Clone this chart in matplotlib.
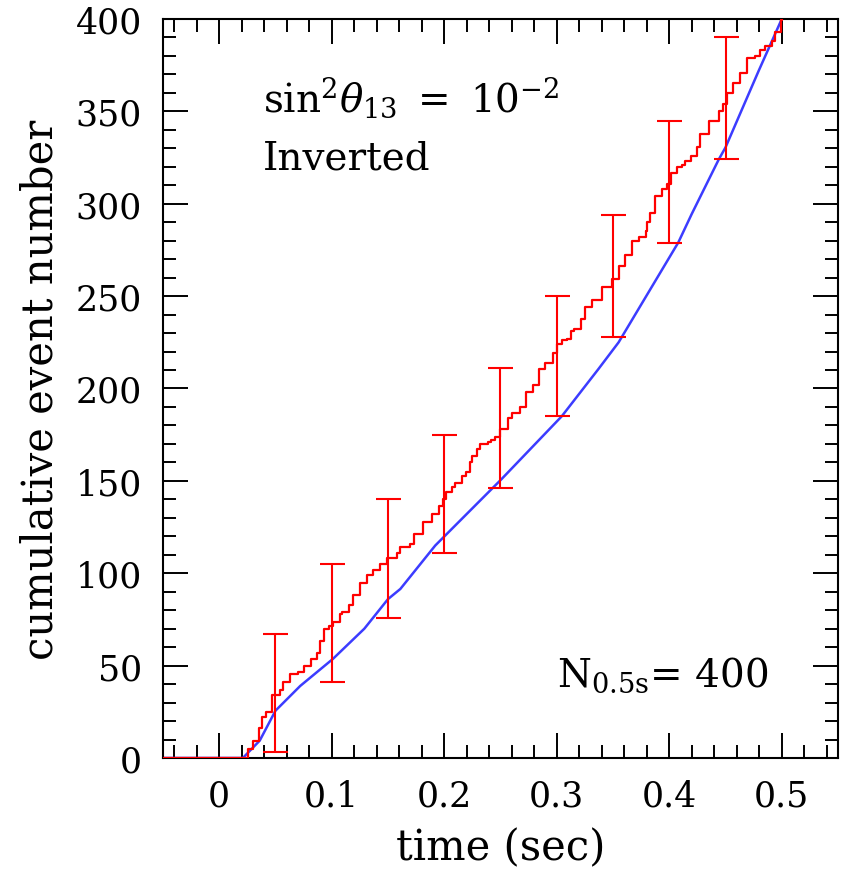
import numpy as np
import matplotlib
matplotlib.use("Agg")
import matplotlib.pyplot as plt
from matplotlib.ticker import MultipleLocator

plt.rcParams['font.family'] = 'DejaVu Serif'
plt.rcParams['mathtext.fontset'] = 'dejavuserif'

# expected cumulative events (smooth blue curve)
t_model = [-0.05, 0.021, 0.036, 0.050, 0.072, 0.101, 0.129, 0.150, 0.161, 0.192,
           0.251, 0.3045, 0.337, 0.355, 0.408, 0.420, 0.444, 0.450, 0.4795, 0.5]
n_model = [0, 0, 9.4, 25.6, 39, 53.6, 70, 86, 91.5, 115,
           151, 185, 210.5, 225, 279, 294.5, 324, 330.5, 372, 400]

# simulated cumulative events (red step curve)
t_sim = [-0.05, 0.021, 0.026, 0.030, 0.035, 0.038, 0.042, 0.047, 0.054, 0.057,
         0.063, 0.070, 0.075, 0.082, 0.087, 0.090, 0.093, 0.098, 0.101, 0.107,
         0.109, 0.115, 0.119, 0.125, 0.131, 0.137, 0.143, 0.149, 0.158, 0.161,
         0.170, 0.173, 0.181, 0.189, 0.195, 0.199, 0.202, 0.207, 0.210, 0.2155,
         0.219, 0.223, 0.2245, 0.229, 0.232, 0.239, 0.242, 0.245, 0.250, 0.257,
         0.260, 0.2675, 0.273, 0.279, 0.284, 0.290, 0.297, 0.300, 0.305, 0.309,
         0.313, 0.315, 0.322, 0.325, 0.331, 0.340, 0.349, 0.355, 0.361, 0.367,
         0.373, 0.379, 0.380, 0.383, 0.3875, 0.3935, 0.398, 0.4015, 0.407, 0.411,
         0.414, 0.419, 0.4245, 0.4275, 0.435, 0.444, 0.448, 0.451, 0.457, 0.463,
         0.469, 0.4765, 0.481, 0.4855, 0.491, 0.494, 0.499, 0.5]
n_sim = [0, 0, 5, 9, 16, 22, 25, 34, 37, 41,
         45.5, 46.5, 50, 53.6, 57, 63.5, 70, 71.6, 73.6, 78,
         79, 83, 88, 94.5, 99, 102, 105, 108, 111, 114,
         116, 121, 127.5, 132, 136.5, 140, 143.8, 146.5, 149, 152.8,
         155, 160, 163.6, 167, 170, 171, 172, 174, 178, 184,
         187, 190, 198, 202, 210.6, 214, 219, 224, 226.5, 227,
         231, 232, 237.6, 244, 248, 255, 259, 266.5, 272, 280,
         282, 285.5, 290, 295, 304, 308, 310.7, 316.5, 320, 321,
         323, 326, 330.5, 338, 345, 350, 354, 360, 365.6, 371,
         379, 380, 383, 385.5, 388, 393, 399.5, 400]

# error bars
t_err = [0.05, 0.10, 0.15, 0.20, 0.25, 0.30, 0.35, 0.40, 0.45]
err_lo = [3, 41, 76, 111, 146, 185, 228, 279, 324]
err_hi = [67, 105, 140, 175, 211, 250, 294, 345, 390]

fig = plt.figure(figsize=(8.47, 8.70), dpi=100)
ax = fig.add_axes([0.1924, 0.1276, 0.797, 0.8494])

ax.plot(t_model, n_model, color='#3c3cff', lw=1.8, zorder=2)
ax.plot(t_sim, n_sim, color='#ff0000', lw=1.6, drawstyle='steps-post', zorder=3)

lo = np.array(err_lo)
hi = np.array(err_hi)
mid = (lo + hi) / 2
ax.errorbar(t_err, mid, yerr=[mid - lo, hi - mid], fmt='none', ecolor='#ff0000',
            elinewidth=1.5, capsize=9, capthick=1.5, zorder=3)

ax.set_xlim(-0.05, 0.55)
ax.set_ylim(0, 400)
ax.xaxis.set_major_locator(MultipleLocator(0.1))
ax.xaxis.set_minor_locator(MultipleLocator(0.02))
ax.yaxis.set_major_locator(MultipleLocator(50))
ax.yaxis.set_minor_locator(MultipleLocator(10))
ax.set_xticks([0, 0.1, 0.2, 0.3, 0.4, 0.5])
ax.set_xticklabels(['0', '0.1', '0.2', '0.3', '0.4', '0.5'])

ax.tick_params(which='both', direction='in', top=True, right=True, labelsize=25, pad=15)
ax.tick_params(which='major', length=18, width=1.4)
ax.tick_params(which='minor', length=9.5, width=1.4)
for s in ax.spines.values():
    s.set_linewidth(1.5)

ax.set_xlabel('time (sec)', fontsize=30, labelpad=10)
ax.set_ylabel('cumulative event number', fontsize=30, labelpad=10)

ax.text(0.039, 350, r'$\sin^2\!\theta_{13}\ =\ 10^{-2}$', fontsize=28, va='baseline')
ax.text(0.039, 319, 'Inverted', fontsize=28, va='baseline')
ax.text(0.300, 39, r'N$_{0.5\mathrm{s}}$= 400', fontsize=28, va='baseline')

fig.savefig('out.png', dpi=100)
